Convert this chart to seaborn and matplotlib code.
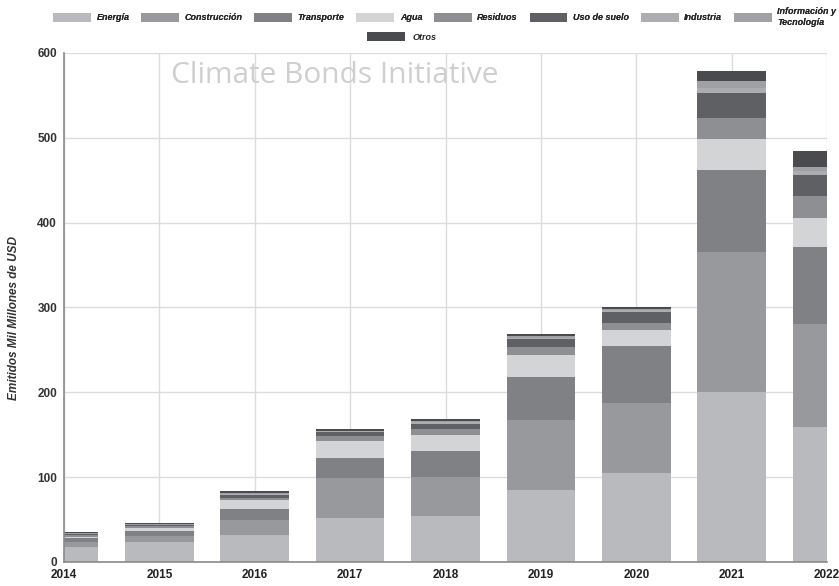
import numpy as np
import pandas as pd
import matplotlib
matplotlib.use("Agg")
import matplotlib.pyplot as plt
import seaborn as sns
from matplotlib.patches import Patch

years = ["2014", "2015", "2016", "2017", "2018", "2019", "2020", "2021", "2022"]
categories = ["Energía", "Construcción", "Transporte", "Agua", "Residuos",
              "Uso de suelo", "Industria", "Información y\nTecnología", "Otros"]

energia      = [18, 24, 32, 52, 54, 85, 105, 200, 159]
construccion = [5, 7, 18, 47, 46, 82, 82, 166, 122]
transporte   = [5, 6, 12, 24, 31, 51, 68, 96, 90]
agua         = [2, 3, 11, 20, 19, 26, 19, 37, 34]
residuos     = [2, 2, 3, 6, 7, 10, 8, 24, 26]
uso_suelo    = [1, 1.5, 3, 4, 6, 9, 13, 30, 25]
industria    = [0.5, 0.5, 1, 1, 1.5, 1.5, 1.5, 6, 5]
informacion  = [0.5, 0.5, 1, 1, 1.5, 1.5, 1.5, 8, 5]
otros        = [1, 1, 2.5, 2, 2, 2.5, 3, 12, 19]

series = [energia, construccion, transporte, agua, residuos,
          uso_suelo, industria, informacion, otros]
colors = ["#b9babd", "#98999c", "#808184", "#d3d4d6", "#8e8f92",
          "#5f6063", "#acadb0", "#a0a1a4", "#4a4b4e"]

sns.set_theme(style="white")
plt.rcParams['font.family'] = ['Liberation Sans', 'DejaVu Sans']

fig = plt.figure(figsize=(8.39, 5.86), dpi=100)
ax = fig.add_axes([64/839, 1-562/586, (827-64)/839, (562-53)/586])

cum = np.cumsum(np.array(series, dtype=float), axis=0)
for i in range(len(series) - 1, -1, -1):
    df = pd.DataFrame({"year": years, "value": cum[i]})
    sns.barplot(data=df, x="year", y="value", color=colors[i], saturation=1,
                width=0.72, linewidth=0, ax=ax, zorder=2)

ax.set_xlim(0, 8)
ax.set_ylim(0, 600)
ax.set_yticks(range(0, 601, 100))
ax.set_xticks(range(9))
ax.set_xticklabels(years)
ax.grid(True, color="#dcdcdc", linewidth=1, zorder=0)
ax.set_axisbelow(True)
for s in ["top", "right"]:
    ax.spines[s].set_visible(False)
ax.spines["left"].set_color("#8a8a8a")
ax.spines["bottom"].set_color("#8a8a8a")
ax.spines["left"].set_linewidth(1.2)
ax.spines["bottom"].set_linewidth(1.2)
ax.tick_params(axis="y", length=4, color="#8a8a8a", labelsize=8.5, pad=1, labelcolor="#333333")
ax.tick_params(axis="x", length=0, labelsize=8.5, pad=5, labelcolor="#222222")
for lab in ax.get_xticklabels() + ax.get_yticklabels():
    lab.set_fontweight("bold")
ax.set_xlabel("")
ax.set_ylabel("Emitidos Mil Millones de USD", fontsize=8.5, style="italic",
              fontweight="bold", color="#333333", labelpad=8)
ax.yaxis.set_label_coords(-0.058, 0.48)

ax.text(2.84, 574, "Climate Bonds Initiative", fontsize=21.5, color="#cfcfcf",
        ha="center", va="center", family=["Open Sans", "DejaVu Sans"], zorder=1)

handles = [Patch(facecolor=c, edgecolor="none") for c in colors]
leg1 = fig.legend(handles[:8], categories[:8], ncol=8, loc="center",
                  bbox_to_anchor=(0.53, 1 - 17/586), frameon=False,
                  prop={"size": 6.5, "style": "italic", "weight": "bold"},
                  handlelength=4.2, handleheight=1.1, handletextpad=0.6,
                  columnspacing=1.3)
fig.legend([handles[8]], [categories[8]], loc="center",
           bbox_to_anchor=(402/839, 1 - 37/586), frameon=False,
           prop={"size": 6.5, "style": "italic", "weight": "bold"},
           handlelength=4.2, handleheight=1.1, handletextpad=0.8)
fig.add_artist(leg1)

fig.savefig("out.png", dpi=100)
